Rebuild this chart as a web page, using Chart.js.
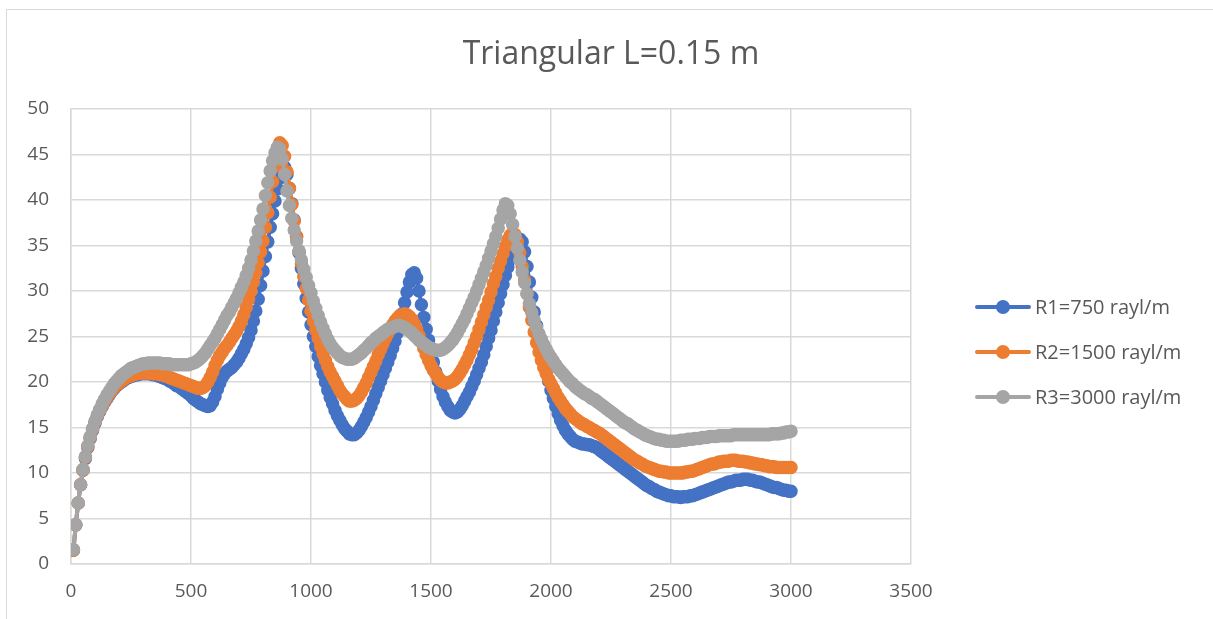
<!DOCTYPE html>
<html>
<head>
<meta charset="utf-8">
<title>Triangular L=0.15 m</title>
<script src="https://cdn.jsdelivr.net/npm/chart.js@4.4.1/dist/chart.umd.min.js"></script>
<style>
    html, body { margin: 0; padding: 0; background: #fff; overflow: hidden; }
    #frame {
        position: absolute; left: 6px; top: 9px; width: 1400px; height: 800px;
        border: 1px solid #d9d9d9;
    }
    #wrap { position: absolute; left: 0; top: 0; width: 1213px; height: 619px; }
</style>
</head>
<body>
<div id="frame"></div>
<div id="wrap"><canvas id="chart" width="1213" height="619"></canvas></div>
<script>
// frequency grid, 10 Hz steps from 10 to 3000
const freq = Array.from({ length: 300 }, (_, i) => (i + 1) * 10);

const chartTitle = 'Triangular L=0.15 m';
const seriesNames = ['R1=750 rayl/m', 'R2=1500 rayl/m', 'R3=3000 rayl/m'];

const r1 = [
    1.5, 4.3, 6.7, 8.7, 10.3, 11.6, 12.8, 13.8, 14.7, 15.5,
    16.2, 16.8, 17.3, 17.8, 18.2, 18.6, 19.0, 19.3, 19.6, 19.8,
    20.0, 20.2, 20.4, 20.5, 20.6, 20.7, 20.8, 20.8, 20.9, 20.9,
    20.9, 20.9, 20.9, 20.8, 20.8, 20.7, 20.6, 20.5, 20.4, 20.3,
    20.1, 20.0, 19.8, 19.6, 19.5, 19.3, 19.1, 18.9, 18.7, 18.5,
    18.2, 18.0, 17.8, 17.6, 17.5, 17.4, 17.3, 17.4, 17.8, 18.4,
    19.2, 19.9, 20.5, 20.9, 21.2, 21.4, 21.6, 21.9, 22.2, 22.6,
    23.1, 23.6, 24.2, 24.9, 25.7, 26.7, 27.8, 29.1, 30.6, 32.2,
    33.8, 35.4, 37.0, 38.5, 39.9, 41.2, 42.4, 43.3, 43.6, 42.8,
    41.3, 39.6, 37.8, 36.0, 34.2, 32.5, 30.8, 29.2, 27.7, 26.3,
    25.0, 23.9, 22.8, 21.8, 20.9, 20.0, 19.1, 18.3, 17.6, 16.9,
    16.3, 15.8, 15.3, 14.9, 14.6, 14.3, 14.2, 14.2, 14.4, 14.7,
    15.1, 15.6, 16.1, 16.7, 17.3, 18.0, 18.7, 19.4, 20.1, 20.8,
    21.5, 22.2, 22.9, 23.7, 24.5, 25.4, 26.4, 27.5, 28.7, 29.9,
    31.0, 31.8, 32.0, 31.4, 30.0, 28.5, 27.1, 25.8, 24.6, 23.4,
    22.2, 21.1, 20.1, 19.2, 18.4, 17.8, 17.3, 16.9, 16.7, 16.6,
    16.7, 17.0, 17.4, 17.9, 18.4, 18.9, 19.5, 20.1, 20.8, 21.5,
    22.2, 23.0, 23.9, 24.8, 25.7, 26.7, 27.7, 28.7, 29.7, 30.7,
    31.7, 32.6, 33.5, 34.3, 35.0, 35.5, 35.7, 35.4, 34.3, 32.7,
    31.0, 29.3, 27.7, 26.2, 24.8, 23.5, 22.3, 21.2, 20.1, 19.1,
    18.2, 17.3, 16.5, 15.8, 15.2, 14.7, 14.3, 14.0, 13.7, 13.5,
    13.4, 13.3, 13.2, 13.2, 13.1, 13.1, 13.0, 12.9, 12.8, 12.6,
    12.4, 12.2, 12.0, 11.8, 11.6, 11.4, 11.2, 11.0, 10.8, 10.6,
    10.4, 10.2, 10.0, 9.8, 9.6, 9.4, 9.2, 9.0, 8.8, 8.6,
    8.5, 8.3, 8.2, 8.0, 7.9, 7.8, 7.7, 7.6, 7.5, 7.5,
    7.4, 7.4, 7.4, 7.3, 7.4, 7.4, 7.4, 7.5, 7.5, 7.6,
    7.7, 7.8, 7.9, 8.0, 8.1, 8.2, 8.3, 8.4, 8.5, 8.6,
    8.7, 8.8, 8.9, 9.0, 9.0, 9.1, 9.2, 9.2, 9.2, 9.3,
    9.3, 9.3, 9.2, 9.2, 9.1, 9.0, 9.0, 8.9, 8.8, 8.7,
    8.6, 8.5, 8.4, 8.4, 8.3, 8.2, 8.1, 8.1, 8.0, 8.0
];

const r2 = [
    1.5, 4.3, 6.7, 8.7, 10.3, 11.7, 12.9, 13.9, 14.8, 15.6,
    16.3, 16.9, 17.4, 17.9, 18.3, 18.7, 19.1, 19.4, 19.7, 19.9,
    20.1, 20.3, 20.5, 20.6, 20.7, 20.8, 20.9, 20.9, 21.0, 21.0,
    21.0, 21.0, 21.0, 20.9, 20.9, 20.9, 20.8, 20.8, 20.7, 20.6,
    20.5, 20.4, 20.3, 20.2, 20.1, 20.0, 19.9, 19.8, 19.7, 19.6,
    19.5, 19.4, 19.3, 19.3, 19.4, 19.6, 20.0, 20.5, 21.1, 21.8,
    22.4, 22.9, 23.3, 23.7, 24.0, 24.4, 24.8, 25.2, 25.6, 26.1,
    26.7, 27.4, 28.2, 29.1, 30.0, 31.0, 32.0, 33.1, 34.3, 35.5,
    37.0, 38.6, 40.3, 42.0, 43.7, 45.3, 46.3, 46.0, 44.8, 43.1,
    41.3, 39.5, 37.7, 36.0, 34.4, 33.0, 31.6, 30.3, 29.0, 27.8,
    26.7, 25.7, 24.8, 23.9, 23.1, 22.4, 21.7, 21.1, 20.6, 20.1,
    19.6, 19.1, 18.7, 18.4, 18.1, 17.9, 17.9, 18.0, 18.2, 18.5,
    18.9, 19.4, 19.9, 20.5, 21.1, 21.7, 22.3, 23.0, 23.6, 24.2,
    24.8, 25.3, 25.8, 26.3, 26.7, 27.0, 27.3, 27.4, 27.5, 27.4,
    27.2, 26.9, 26.4, 25.8, 25.1, 24.4, 23.7, 23.0, 22.4, 21.8,
    21.3, 20.9, 20.5, 20.2, 20.0, 19.9, 19.9, 20.0, 20.1, 20.3,
    20.6, 21.0, 21.4, 21.9, 22.4, 23.0, 23.6, 24.3, 25.0, 25.8,
    26.6, 27.4, 28.2, 29.0, 29.9, 30.8, 31.6, 32.5, 33.3, 34.1,
    34.9, 35.6, 36.1, 36.4, 36.2, 35.4, 34.2, 32.7, 31.2, 29.7,
    28.2, 26.8, 25.5, 24.3, 23.3, 22.4, 21.6, 20.9, 20.3, 19.8,
    19.3, 18.8, 18.3, 17.9, 17.5, 17.1, 16.8, 16.5, 16.2, 16.0,
    15.8, 15.6, 15.4, 15.3, 15.1, 15.0, 14.8, 14.7, 14.5, 14.4,
    14.2, 14.0, 13.8, 13.6, 13.4, 13.2, 13.0, 12.8, 12.6, 12.4,
    12.2, 12.0, 11.8, 11.6, 11.4, 11.3, 11.1, 11.0, 10.8, 10.7,
    10.6, 10.5, 10.4, 10.3, 10.2, 10.2, 10.1, 10.1, 10.0, 10.0,
    10.0, 10.0, 10.0, 10.0, 10.0, 10.1, 10.1, 10.2, 10.2, 10.3,
    10.4, 10.5, 10.6, 10.7, 10.8, 10.9, 11.0, 11.0, 11.1, 11.2,
    11.2, 11.3, 11.3, 11.3, 11.4, 11.4, 11.4, 11.3, 11.3, 11.3,
    11.2, 11.2, 11.1, 11.1, 11.0, 11.0, 10.9, 10.9, 10.8, 10.8,
    10.7, 10.7, 10.7, 10.6, 10.6, 10.6, 10.6, 10.6, 10.6, 10.6
];

const r3 = [
    1.6, 4.3, 6.7, 8.7, 10.4, 11.8, 13.0, 14.0, 14.9, 15.7,
    16.4, 17.0, 17.6, 18.1, 18.6, 19.0, 19.4, 19.8, 20.1, 20.4,
    20.7, 20.9, 21.1, 21.3, 21.5, 21.6, 21.7, 21.8, 21.9, 22.0,
    22.0, 22.1, 22.1, 22.1, 22.1, 22.1, 22.1, 22.0, 22.0, 22.0,
    22.0, 21.9, 21.9, 21.9, 21.9, 21.9, 21.9, 21.9, 21.9, 22.0,
    22.1, 22.2, 22.4, 22.6, 22.9, 23.2, 23.6, 24.0, 24.4, 24.8,
    25.3, 25.8, 26.3, 26.8, 27.3, 27.7, 28.2, 28.7, 29.2, 29.8,
    30.4, 31.0, 31.7, 32.5, 33.4, 34.4, 35.5, 36.6, 37.8, 39.0,
    40.5, 41.9, 43.2, 44.3, 45.2, 45.8, 45.6, 44.5, 42.8, 41.0,
    39.4, 38.0, 36.7, 35.5, 34.4, 33.4, 32.4, 31.5, 30.6, 29.8,
    28.9, 28.1, 27.3, 26.6, 25.9, 25.3, 24.7, 24.2, 23.8, 23.5,
    23.2, 22.9, 22.7, 22.6, 22.5, 22.5, 22.5, 22.6, 22.8, 23.0,
    23.2, 23.5, 23.7, 24.0, 24.3, 24.5, 24.8, 25.0, 25.2, 25.4,
    25.6, 25.8, 25.9, 26.0, 26.1, 26.2, 26.2, 26.1, 26.0, 25.8,
    25.6, 25.4, 25.1, 24.9, 24.6, 24.4, 24.2, 24.0, 23.8, 23.7,
    23.6, 23.5, 23.5, 23.5, 23.6, 23.8, 24.0, 24.3, 24.6, 25.0,
    25.4, 25.9, 26.4, 26.9, 27.5, 28.1, 28.7, 29.3, 30.0, 30.7,
    31.4, 32.1, 32.8, 33.6, 34.4, 35.2, 36.0, 36.9, 37.9, 38.9,
    39.6, 39.4, 38.5, 37.3, 36.0, 34.7, 33.4, 32.1, 30.9, 29.7,
    28.6, 27.6, 26.8, 26.0, 25.3, 24.7, 24.1, 23.6, 23.1, 22.7,
    22.3, 21.9, 21.5, 21.2, 20.9, 20.6, 20.3, 20.0, 19.8, 19.5,
    19.3, 19.1, 18.9, 18.7, 18.6, 18.4, 18.2, 18.1, 17.9, 17.7,
    17.5, 17.3, 17.1, 16.9, 16.7, 16.5, 16.3, 16.1, 15.9, 15.7,
    15.5, 15.4, 15.2, 15.0, 14.8, 14.7, 14.5, 14.4, 14.2, 14.1,
    14.0, 13.9, 13.8, 13.7, 13.7, 13.6, 13.6, 13.5, 13.5, 13.5,
    13.5, 13.5, 13.5, 13.6, 13.6, 13.6, 13.7, 13.7, 13.7, 13.8,
    13.8, 13.8, 13.9, 13.9, 13.9, 14.0, 14.0, 14.0, 14.0, 14.1,
    14.1, 14.1, 14.1, 14.1, 14.1, 14.2, 14.2, 14.2, 14.2, 14.2,
    14.2, 14.2, 14.2, 14.2, 14.2, 14.2, 14.2, 14.2, 14.2, 14.2,
    14.2, 14.3, 14.3, 14.3, 14.3, 14.4, 14.4, 14.5, 14.5, 14.6
];

const xTicks = [0, 500, 1000, 1500, 2000, 2500, 3000, 3500];
const yTicks = [0, 5, 10, 15, 20, 25, 30, 35, 40, 45, 50];

const colors = ['#4472C4', '#ED7D31', '#A5A5A5'];
const textColor = '#595959';
const gridColor = '#d9d9d9';

function points(values) {
    return freq.map((f, i) => ({ x: f, y: values[i] }));
}

function makeSeries(i, values) {
    return {
        label: seriesNames[i],
        data: points(values),
        borderColor: colors[i],
        backgroundColor: colors[i],
        pointBackgroundColor: colors[i],
        pointBorderColor: colors[i],
        borderWidth: 4,
        pointRadius: 6,
        pointBorderWidth: 1.5,
        tension: 0.3,
        fill: false,
        order: 3 - i   // last series ends up on top
    };
}

// title centred on the whole canvas, legend with line + marker samples on the right
const decorations = {
    id: 'decorations',
    afterDraw(chart) {
        const ctx = chart.ctx;
        ctx.save();
        ctx.fillStyle = textColor;
        ctx.font = '32px "Open Sans"';
        ctx.textAlign = 'center';
        ctx.textBaseline = 'middle';
        ctx.fillText(chartTitle, 611, 55);

        chart.data.datasets.forEach((ds, i) => {
            const y = 307 + i * 45;
            ctx.strokeStyle = ds.borderColor;
            ctx.lineWidth = 4;
            ctx.lineCap = 'round';
            ctx.beginPath();
            ctx.moveTo(977, y);
            ctx.lineTo(1029, y);
            ctx.stroke();
            ctx.fillStyle = ds.borderColor;
            ctx.beginPath();
            ctx.arc(1003, y, 7, 0, Math.PI * 2);
            ctx.fill();
            ctx.fillStyle = textColor;
            ctx.font = '20px "Open Sans"';
            ctx.textBaseline = 'middle';
            ctx.textAlign = 'left';
            ctx.fillText(ds.label, 1035, y + 1);
        });
        ctx.restore();
    }
};

new Chart(document.getElementById('chart'), {
    type: 'line',
    data: {
        datasets: [makeSeries(0, r1), makeSeries(1, r2), makeSeries(2, r3)]
    },
    options: {
        responsive: false,
        animation: false,
        layout: { padding: { left: 0, right: 302, top: 109, bottom: 0 } },
        plugins: {
            legend: { display: false },
            tooltip: { enabled: false },
            title: { display: false }
        },
        scales: {
            x: {
                type: 'linear',
                min: 0,
                max: 3500,
                afterBuildTicks: axis => { axis.ticks = xTicks.map(v => ({ value: v })); },
                afterFit: axis => { axis.height = 55; },
                ticks: {
                    color: textColor,
                    font: { family: '"Open Sans"', size: 19 },
                    padding: 16,
                    maxRotation: 0,
                    callback: v => String(v)
                },
                grid: { color: gridColor, lineWidth: 1.5, drawTicks: false },
                border: { color: gridColor, width: 1.5 }
            },
            y: {
                min: 0,
                max: 50,
                afterBuildTicks: axis => { axis.ticks = yTicks.map(v => ({ value: v })); },
                afterFit: axis => { axis.width = 71; },
                ticks: {
                    color: textColor,
                    font: { family: '"Open Sans"', size: 19 },
                    padding: 22,
                    callback: v => String(v)
                },
                grid: { color: gridColor, lineWidth: 1.5, drawTicks: false },
                border: { color: gridColor, width: 1.5 }
            }
        }
    },
    plugins: [decorations]
});
</script>
</body>
</html>
